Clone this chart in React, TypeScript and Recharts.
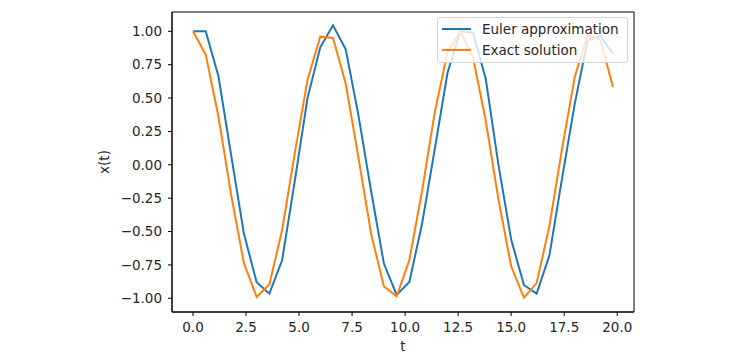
import { LineChart, Line, XAxis, YAxis, Legend, ReferenceArea } from "recharts";

const tValues = [
  0, 0.6, 1.2, 1.8, 2.4, 3.0, 3.6, 4.2, 4.8, 5.4, 6.0, 6.6, 7.2, 7.8, 8.4, 9.0, 9.6,
  10.2, 10.8, 11.4, 12.0, 12.6, 13.2, 13.8, 14.4, 15.0, 15.6, 16.2, 16.8, 17.4, 18.0,
  18.6, 19.2, 19.8,
];

const eulerValues = [
  1.0, 1.0, 0.663, 0.07, -0.515, -0.88, -0.965, -0.715, -0.12, 0.5, 0.88, 1.045, 0.865,
  0.37, -0.2, -0.74, -0.975, -0.878, -0.44, 0.12, 0.69, 1.0, 0.99, 0.645, 0.0, -0.56,
  -0.9, -0.965, -0.68, -0.1, 0.46, 0.93, 0.965, 0.833,
];

const exactValues = [
  1.0, 0.825, 0.362, -0.227, -0.737, -0.99, -0.897, -0.49, 0.087, 0.635, 0.96, 0.95,
  0.608, 0.054, -0.519, -0.911, -0.985, -0.714, -0.194, 0.394, 0.844, 0.999, 0.806,
  0.332, -0.26, -0.76, -0.995, -0.886, -0.46, 0.121, 0.66, 0.969, 0.939, 0.582,
];

const xTicks = [0, 2.5, 5, 7.5, 10, 12.5, 15, 17.5, 20];
const yTicks = [-1, -0.75, -0.5, -0.25, 0, 0.25, 0.5, 0.75, 1];

const data = tValues.map((t, i) => ({
  t,
  euler: eulerValues[i],
  exact: exactValues[i],
}));

const FONT = "DejaVu Sans";
const TEXT = "#262626";
const BLUE = "#1f77b4";
const ORANGE = "#ff7f0e";
const X_DOMAIN: [number, number] = [-0.99, 20.79];
const Y_DOMAIN: [number, number] = [-1.1026, 1.1446];

const fmtX = (v: number) => v.toFixed(1);
const fmtY = (v: number) => (v < 0 ? "\u2212" : "") + Math.abs(v).toFixed(2);

const tickStyle = { fontFamily: FONT, fontSize: 13.5, fill: TEXT };

function MplLegend(props: any) {
  const items = props.payload || [];
  return (
    <div
      style={{
        boxSizing: "border-box",
        width: 191,
        height: 46,
        border: "1px solid #d4d4d4",
        borderRadius: 3,
        background: "rgba(255,255,255,0.8)",
        paddingTop: 1,
        paddingLeft: 4,
        fontFamily: FONT,
        fontSize: 13.5,
        color: TEXT,
      }}
    >
      {items.map((it: any) => (
        <div
          key={it.value}
          style={{ display: "flex", alignItems: "center", height: 20.5 }}
        >
          <span
            style={{
              display: "inline-block",
              width: 29,
              height: 2,
              background: it.color,
              marginRight: 11,
            }}
          />
          <span style={{ lineHeight: "20px" }}>{it.value}</span>
        </div>
      ))}
    </div>
  );
}

export default function App() {
  return (
    <div style={{ position: "absolute", left: 0, top: 0, background: "#fff" }}>
      <LineChart
        width={750}
        height={355}
        data={data}
        margin={{ top: 12, right: 116, bottom: 0, left: 100 }}
      >
        <XAxis
          dataKey="t"
          type="number"
          domain={X_DOMAIN}
          allowDataOverflow
          ticks={xTicks}
          tickFormatter={fmtX}
          height={43}
          tickSize={4}
          tickMargin={6}
          tick={tickStyle}
          axisLine={{ stroke: "#000" }}
          tickLine={{ stroke: "#000" }}
          label={{
            value: "t",
            position: "insideBottom",
            offset: 4,
            style: { fontFamily: FONT, fontSize: 13.5, fill: TEXT },
          }}
        />
        <YAxis
          type="number"
          domain={Y_DOMAIN}
          allowDataOverflow
          ticks={yTicks}
          tickFormatter={fmtY}
          width={72}
          tickSize={4}
          tickMargin={6}
          tick={tickStyle}
          axisLine={{ stroke: "#000" }}
          tickLine={{ stroke: "#000" }}
          label={{
            content: (p: any) => {
              const vb = p.viewBox || { x: 100, y: 12, height: 300 };
              const x = vb.x + 9;
              const y = vb.y + vb.height / 2;
              return (
                <text
                  x={x}
                  y={y}
                  transform={`rotate(-90 ${x} ${y})`}
                  textAnchor="middle"
                  style={{ fontFamily: FONT, fontSize: 13.5, fill: TEXT }}
                >
                  x(t)
                </text>
              );
            },
          }}
        />
        <ReferenceArea
          x1={X_DOMAIN[0]}
          x2={X_DOMAIN[1]}
          y1={Y_DOMAIN[0]}
          y2={Y_DOMAIN[1]}
          fill="none"
          fillOpacity={0}
          stroke="#000"
          strokeOpacity={1}
          strokeWidth={1}
        />
        <Line
          dataKey="euler"
          name="Euler approximation"
          stroke={BLUE}
          strokeWidth={2}
          dot={false}
          isAnimationActive={false}
        />
        <Line
          dataKey="exact"
          name="Exact solution"
          stroke={ORANGE}
          strokeWidth={2}
          dot={false}
          isAnimationActive={false}
        />
        <Legend
          layout="horizontal"
          align="center"
          verticalAlign="middle"
          content={MplLegend}
          wrapperStyle={{ left: 437, top: 17, width: 191, height: 46 }}
        />
      </LineChart>
    </div>
  );
}
